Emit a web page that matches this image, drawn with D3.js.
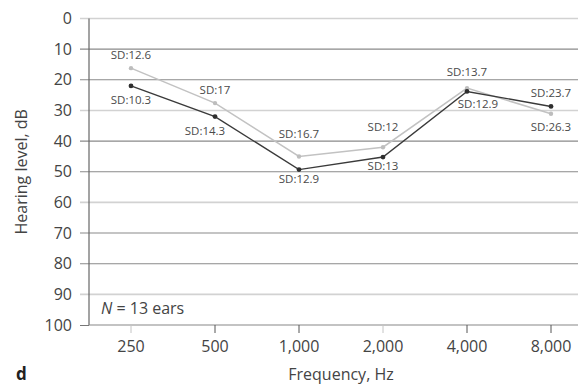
<!DOCTYPE html>
<html>
<head>
  <meta charset="utf-8">
  <title>Hearing level by frequency</title>
  <script src="https://d3js.org/d3.v7.min.js"></script>
  <style>
    body { margin: 0; background: #fff; }
    svg { display: block; font-family: "Open Sans", "Noto Sans", sans-serif; }
  </style>
</head>
<body>
<div id="chart"></div>
<script>

// Data
var frequencies = ["250", "500", "1,000", "2,000", "4,000", "8,000"];
var darkLevels  = [22, 32, 49.3, 45.2, 23.8, 28.7];
var lightLevels = [16.2, 27.6, 45, 42, 22.7, 31.1];
var darkSD  = [10.3, 14.3, 12.9, 13, 12.9, 23.7];
var lightSD = [12.6, 17, 16.7, 12, 13.7, 26.3];
var yTicks = [0, 10, 20, 30, 40, 50, 60, 70, 80, 90, 100];

// label nudges (layout only)
var aboveDy = [-13, -13, -22, -20, -16, -13];
var belowDy = [14, 14, 9, 9, 13, 13];
var belowDx = [0, -10, 0, 0, 11, 0];

var width = 578, height = 386;
var margin = { top: 18.5, left: 89 };
var plotW = 504, plotH = 306.5;

var svg = d3.select("#chart").append("svg")
  .attr("width", width)
  .attr("height", height);

var g = svg.append("g")
  .attr("transform", "translate(" + margin.left + "," + margin.top + ")");

var x = d3.scaleBand().domain(frequencies).range([0, plotW]);
var y = d3.scaleLinear().domain([0, 100]).range([0, plotH]);
var cx = function(f) { return x(f) + x.bandwidth() / 2; };

// gridlines - some render lighter in the original
var lightGrid = [0, 30, 60, 90];
g.selectAll(".grid")
  .data(yTicks.filter(function(d) { return d !== 100; }))
  .enter().append("line")
  .attr("x1", -9).attr("x2", plotW)
  .attr("y1", function(d) { return y(d); })
  .attr("y2", function(d) { return y(d); })
  .attr("stroke", function(d) { return lightGrid.indexOf(d) >= 0 ? "#d2d2d2" : "#8a8a8a"; })
  .attr("stroke-width", function(d) { return lightGrid.indexOf(d) >= 0 ? 1.6 : 1.1; });

// y axis labels
var yAxis = d3.axisLeft(y).tickValues(yTicks).tickSize(9).tickPadding(8);
var ya = g.append("g").call(yAxis);
ya.select(".domain").remove();
ya.selectAll("line").filter(function(d) { return d !== 100; }).remove();
ya.selectAll("line").attr("stroke", "#777");
ya.selectAll("text")
  .attr("fill", "#444")
  .style("font-size", "16px")
  .style("font-family", "'Open Sans', sans-serif");

// axis lines
g.append("line")
  .attr("x1", 0).attr("x2", 0).attr("y1", y(0)).attr("y2", y(100))
  .attr("stroke", "#666").attr("stroke-width", 1.2);
g.append("line")
  .attr("x1", 0).attr("x2", plotW).attr("y1", y(100)).attr("y2", y(100))
  .attr("stroke", "#888").attr("stroke-width", 1.2);

// x axis
var xa = g.append("g")
  .attr("transform", "translate(0," + y(100) + ")")
  .call(d3.axisBottom(x).tickSize(8).tickPadding(8));
xa.select(".domain").remove();
xa.selectAll("line").attr("stroke", function(d) {
  return (d === "250" || d === "2,000") ? "#c4c4c4" : "#555";
});
xa.selectAll("text")
  .attr("fill", "#444")
  .style("font-size", "16px")
  .style("font-family", "'Open Sans', sans-serif");

// series lines
var line = d3.line()
  .x(function(d, i) { return cx(frequencies[i]); })
  .y(function(d) { return y(d); });

g.append("path").datum(lightLevels)
  .attr("fill", "none").attr("stroke", "#c2c2c2").attr("stroke-width", 1.5)
  .attr("d", line);
g.append("path").datum(darkLevels)
  .attr("fill", "none").attr("stroke", "#3a3a3a").attr("stroke-width", 1.4)
  .attr("d", line);

g.selectAll(".pl").data(lightLevels).enter().append("circle")
  .attr("cx", function(d, i) { return cx(frequencies[i]); })
  .attr("cy", function(d) { return y(d); })
  .attr("r", 2.2).attr("fill", "#bdbdbd");
g.selectAll(".pd").data(darkLevels).enter().append("circle")
  .attr("cx", function(d, i) { return cx(frequencies[i]); })
  .attr("cy", function(d) { return y(d); })
  .attr("r", 2.4).attr("fill", "#2e2e2e");

// SD labels: upper point gets label above, lower one below
frequencies.forEach(function(f, i) {
  var lightUp = lightLevels[i] < darkLevels[i];
  var upVal = lightUp ? lightLevels[i] : darkLevels[i];
  var loVal = lightUp ? darkLevels[i] : lightLevels[i];
  var upSD = lightUp ? lightSD[i] : darkSD[i];
  var loSD = lightUp ? darkSD[i] : lightSD[i];

  g.append("text")
    .attr("x", cx(f)).attr("y", y(upVal) + aboveDy[i])
    .attr("dy", "0.35em").attr("text-anchor", "middle")
    .attr("fill", "#4a4a4a").style("font-size", "11.5px")
    .text("SD:" + upSD);
  g.append("text")
    .attr("x", cx(f) + belowDx[i]).attr("y", y(loVal) + belowDy[i])
    .attr("dy", "0.35em").attr("text-anchor", "middle")
    .attr("fill", "#4a4a4a").style("font-size", "11.5px")
    .text("SD:" + loSD);
});

// N note
var note = g.append("text")
  .attr("x", 12).attr("y", y(96.5))
  .attr("fill", "#444").style("font-size", "16px");
note.append("tspan").style("font-style", "italic").text("N");
note.append("tspan").text(" = 13 ears");

// axis titles
svg.append("text")
  .attr("transform", "translate(27," + (margin.top + y(50)) + ") rotate(-90)")
  .attr("text-anchor", "middle")
  .attr("fill", "#444").style("font-size", "16px")
  .text("Hearing level, dB");

svg.append("text")
  .attr("x", margin.left + plotW / 2).attr("y", 380)
  .attr("text-anchor", "middle")
  .attr("fill", "#444").style("font-size", "16px")
  .text("Frequency, Hz");

svg.append("text")
  .attr("x", 16).attr("y", 380)
  .attr("fill", "#222").style("font-size", "17px").style("font-weight", "bold")
  .text("d");

</script>
</body>
</html>
